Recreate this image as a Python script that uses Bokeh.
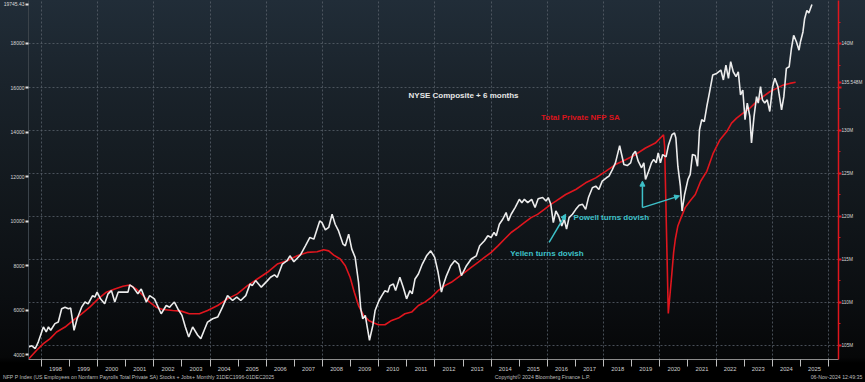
from bokeh.plotting import figure
from bokeh.models import (Range1d, LinearAxis, FixedTicker, Label, Arrow, NormalHead,
                          Grid, CustomJSTickFormatter)
from bokeh.embed import file_html
from bokeh.resources import INLINE

# ---------------- data ----------------
nyse_date = [1997.54, 1997.66, 1997.78, 1997.89, 1998.07, 1998.17, 1998.25, 1998.33, 1998.48, 1998.60,
             1998.72, 1998.84, 1998.96, 1999.04, 1999.16, 1999.27, 1999.43, 1999.55, 1999.66, 1999.82,
             1999.90, 1999.98, 2000.10, 2000.25, 2000.37, 2000.49, 2000.61, 2000.73, 2000.90, 2001.08,
             2001.14, 2001.26, 2001.43, 2001.55, 2001.73, 2001.85, 2002.02, 2002.26, 2002.44, 2002.56,
             2002.61, 2002.73, 2002.85, 2003.00, 2003.12, 2003.24, 2003.38, 2003.56, 2003.67, 2003.79,
             2003.91, 2004.09, 2004.27, 2004.44, 2004.62, 2004.80, 2004.95, 2005.09, 2005.27, 2005.42,
             2005.50, 2005.62, 2005.82, 2006.04, 2006.15, 2006.29, 2006.39, 2006.57, 2006.74, 2006.84,
             2006.98, 2007.21, 2007.39, 2007.55, 2007.69, 2007.90, 2007.98, 2008.10, 2008.22, 2008.34,
             2008.45, 2008.57, 2008.73, 2008.81, 2008.93, 2009.04, 2009.16, 2009.28, 2009.36, 2009.43,
             2009.52, 2009.60, 2009.67, 2009.79, 2009.87, 2010.01, 2010.11, 2010.22, 2010.32, 2010.40,
             2010.52, 2010.60, 2010.75, 2010.87, 2010.99, 2011.11, 2011.19, 2011.29, 2011.41, 2011.55,
             2011.70, 2011.85, 2011.99, 2012.11, 2012.23, 2012.29, 2012.41, 2012.56, 2012.70, 2012.84,
             2012.94, 2013.00, 2013.12, 2013.29, 2013.47, 2013.59, 2013.76, 2013.88, 2014.00, 2014.10,
             2014.18, 2014.29, 2014.41, 2014.53, 2014.61, 2014.71, 2014.85, 2015.00, 2015.09, 2015.18,
             2015.30, 2015.44, 2015.56, 2015.67, 2015.83, 2015.95, 2016.03, 2016.12, 2016.16, 2016.21,
             2016.30, 2016.40, 2016.51, 2016.60, 2016.68, 2016.77, 2016.89, 2017.01, 2017.13, 2017.25,
             2017.36, 2017.46, 2017.60, 2017.72, 2017.83, 2017.95, 2018.10, 2018.19, 2018.31, 2018.42,
             2018.52, 2018.57, 2018.64, 2018.72, 2018.84, 2018.96, 2019.04, 2019.13, 2019.23, 2019.35,
             2019.43, 2019.49, 2019.60, 2019.70, 2019.78, 2019.87, 2019.94, 2020.02, 2020.10, 2020.22,
             2020.31, 2020.43, 2020.52, 2020.57, 2020.64, 2020.73, 2020.79, 2020.88, 2021.00, 2021.08,
             2021.16, 2021.26, 2021.34, 2021.41, 2021.49, 2021.58, 2021.67, 2021.76, 2021.88, 2022.02,
             2022.17, 2022.26, 2022.35, 2022.44, 2022.52, 2022.61, 2022.71, 2022.79, 2022.87, 2022.95,
             2023.03, 2023.11, 2023.20, 2023.26, 2023.35, 2023.44, 2023.50, 2023.58, 2023.65, 2023.73,
             2023.82, 2023.91, 2024.01, 2024.09, 2024.20, 2024.33, 2024.41, 2024.50, 2024.60, 2024.68,
             2024.76, 2024.86, 2024.95, 2025.00, 2025.09, 2025.15, 2025.23, 2025.30, 2025.41]
nyse_value = [4344, 4390, 4270, 4570, 5240, 5015, 5240, 5090, 5390, 5460,
              6060, 6130, 6060, 6090, 5090, 5610, 6130, 6360, 6280, 6650,
              6580, 6805, 6505, 6280, 6730, 6875, 6360, 6805, 6805, 6805,
              7130, 7030, 6730, 6950, 6360, 6650, 6505, 5835, 6205, 6130,
              6205, 6360, 6060, 5760, 5240, 4790, 5240, 4865, 4715, 5090,
              5460, 5610, 5685, 6130, 6650, 6430, 6580, 6430, 6650, 7175,
              7100, 7325, 7030, 7325, 7475, 7580, 7475, 8070, 8220, 8440,
              8175, 8475, 8890, 9265, 9190, 10010, 9935, 9605, 9715, 10310,
              9860, 9560, 8965, 8890, 9415, 8740, 8370, 7250, 6060, 5610,
              5760, 5165, 4640, 5310, 5980, 6430, 6650, 6875, 6805, 7100,
              7175, 6875, 7475, 7030, 6505, 6875, 6730, 7400, 7625, 8070,
              8440, 8665, 8370, 7700, 6805, 7100, 7550, 7995, 8220, 8070,
              7550, 7700, 7995, 8295, 8440, 8890, 9115, 9340, 9265, 9490,
              9340, 9860, 10085, 10385, 10010, 10310, 10610, 10980, 10830, 10980,
              10830, 10980, 10610, 11010, 11060, 10905, 11060, 10755, 10385, 9935,
              10455, 10230, 9785, 10085, 9640, 10160, 10310, 10530, 10710, 10755,
              10530, 11060, 11500, 11575, 11425, 11800, 11950, 12025, 12320, 12620,
              13140, 13395, 12995, 12545, 12500, 12620, 12995, 13140, 12695, 12400,
              12620, 11875, 12245, 12620, 12770, 12620, 13070, 12620, 12995, 12890,
              13440, 13890, 13965, 13740, 12470, 11575, 10455, 11200, 11875, 12100,
              13000, 12950, 12470, 14110, 14560, 14480, 15155, 15750, 16570, 16645,
              16795, 16350, 17020, 16425, 17170, 16720, 16500, 16720, 15680, 15900,
              14560, 15310, 14710, 13520, 14710, 15600, 15310, 16050, 15455, 15310,
              15455, 14930, 16050, 16425, 16050, 15005, 15600, 16870, 16945, 17765,
              18360, 18060, 17690, 18060, 18510, 19105, 19480, 19360, 19745.43]

nfp_date = [1997.54, 1997.83, 1998.07, 1998.31, 1998.54, 1998.84, 1999.13, 1999.43, 1999.72, 2000.02,
            2000.31, 2000.61, 2000.90, 2001.14, 2001.37, 2001.61, 2001.85, 2002.08, 2002.32, 2002.67,
            2002.97, 2003.26, 2003.62, 2003.91, 2004.27, 2004.62, 2004.97, 2005.33, 2005.68, 2006.04,
            2006.39, 2006.74, 2007.10, 2007.45, 2007.81, 2008.04, 2008.22, 2008.40, 2008.63, 2008.81,
            2008.98, 2009.13, 2009.28, 2009.46, 2009.64, 2009.81, 2009.99, 2010.22, 2010.46, 2010.70,
            2010.93, 2011.17, 2011.41, 2011.64, 2011.88, 2012.11, 2012.35, 2012.58, 2012.82, 2013.06,
            2013.29, 2013.53, 2013.76, 2014.00, 2014.24, 2014.47, 2014.71, 2014.95, 2015.18, 2015.42,
            2015.65, 2015.89, 2016.12, 2016.30, 2016.65, 2017.01, 2017.36, 2017.72, 2018.07, 2018.42,
            2018.78, 2019.13, 2019.49, 2019.84, 2020.13, 2020.17, 2020.30, 2020.41, 2020.49, 2020.55,
            2020.64, 2020.73, 2020.90, 2021.08, 2021.26, 2021.45, 2021.67, 2021.90, 2022.14, 2022.38,
            2022.55, 2022.73, 2022.96, 2023.20, 2023.44, 2023.67, 2023.91, 2024.15, 2024.38, 2024.62,
            2024.83]
nfp_value = [103.38, 104.42, 105.20, 105.77, 106.55, 107.12, 107.89, 108.66, 109.43, 110.39,
             111.17, 111.55, 111.86, 112.01, 111.55, 110.78, 110.01, 109.43, 109.16, 109.04,
             108.97, 108.66, 108.66, 109.04, 109.62, 110.39, 110.97, 111.93, 112.70, 113.48,
             114.44, 114.82, 115.40, 115.79, 115.86, 116.09, 115.97, 115.48, 115.02, 114.24,
             112.90, 111.17, 109.62, 108.47, 107.89, 107.62, 107.39, 107.39, 107.89, 108.16,
             108.66, 108.86, 109.62, 110.01, 110.59, 111.35, 111.93, 112.32, 112.90, 113.48,
             114.06, 114.63, 115.21, 115.79, 116.55, 117.32, 118.10, 118.68, 119.25, 119.83,
             120.21, 120.79, 121.37, 121.75, 122.52, 123.10, 123.87, 124.45, 125.21, 125.99,
             126.56, 127.14, 127.92, 128.49, 129.45, 128.10, 108.70, 112.70, 115.79, 117.32,
             118.86, 119.63, 120.99, 121.80, 122.52, 124.06, 125.21, 127.33, 128.88, 129.83,
             130.80, 131.38, 131.96, 132.54, 133.30, 133.88, 134.45, 134.84, 135.22, 135.42,
             135.548]

year_labels = list(range(1998, 2026))
left_ticks = [4000, 6000, 8000, 10000, 12000, 14000, 16000, 18000]
right_ticks = [105, 110, 115, 120, 125, 130, 135, 140]
nyse_last = 19745.43
nfp_last = 135.548
footer_left = "NFP P Index (US Employees on Nonfarm Payrolls Total Private SA) Stocks + Jobs+  Monthly 31DEC1996-01DEC2025"
footer_mid = "Copyright\u00a9 2024 Bloomberg Finance L.P."
footer_right = "06-Nov-2024 12:49:35"

# ---------------- layout / style ----------------
FONT = "Liberation Sans"
TEAL = "#3ec1c9"
RED = "#e0161e"
X0, X1 = 1997.54, 2026.355

p = figure(width=865, height=382, output_backend="svg", toolbar_location=None,
           x_range=Range1d(X0, X1), y_range=Range1d(3776, 19924),
           min_border_left=25, min_border_right=26, min_border_top=0, min_border_bottom=19)
p.extra_y_ranges = {"nfp": Range1d(103.35, 145.05)}
p.background_fill_color = None
p.border_fill_color = None
p.outline_line_color = None
p.styles = {"background": "linear-gradient(to bottom, #212d38 0%, #1a232b 22%, #13191e 48%, "
                          "#0b0e11 78%, #060708 93.5%, #000000 95%, #000000 100%)"}

# bottom axis: labels centred in each year, ticks at year boundaries, footer as axis label
NB = "\u00a0"
xa = p.xaxis[0]
xa.ticker = FixedTicker(ticks=[y + 0.5 for y in year_labels],
                        minor_ticks=list(range(1998, 2027)))
xa.formatter = CustomJSTickFormatter(code="return String(Math.floor(tick));")
xa.major_tick_out = 0
xa.major_tick_in = 0
xa.minor_tick_out = 7
xa.minor_tick_in = 0
xa.minor_tick_line_color = "#bdbdbd"
xa.axis_line_color = "#8c8c8c"
xa.major_label_text_font = FONT
xa.major_label_text_font_size = "5.8px"
xa.major_label_text_color = "#cfcfcf"
xa.major_label_standoff = 0
xa.axis_label = footer_left + NB * 153 + footer_mid + NB * 153 + footer_right
xa.axis_label_standoff = 0
xa.axis_label_text_font = FONT
xa.axis_label_text_font_size = "5.2px"
xa.axis_label_text_font_style = "normal"
xa.axis_label_text_color = "#bdbdbd"

# left axis (with the last-value tag)
ya = p.yaxis[0]
ya.ticker = FixedTicker(ticks=left_ticks + [nyse_last])
ya.formatter = CustomJSTickFormatter(args=dict(last=nyse_last),
                                     code="return (tick == last) ? tick.toFixed(2) : tick.toFixed(0);")
ya.major_tick_out = 3
ya.major_tick_in = 0
ya.major_tick_line_color = "#e0e0e0"
ya.major_tick_line_width = 2
ya.minor_tick_line_color = None
ya.axis_line_color = "#3b434a"
ya.major_label_text_font = FONT
ya.major_label_text_font_size = "5px"
ya.major_label_text_color = "#d8d8d8"
ya.major_label_standoff = 1

# right axis (NFP, with the last-value tag)
ra = LinearAxis(y_range_name="nfp",
                ticker=FixedTicker(ticks=right_ticks + [nfp_last],
                                   minor_ticks=[t - 2.5 for t in right_ticks] + [142.5]),
                formatter=CustomJSTickFormatter(
                    args=dict(last=nfp_last),
                    code="if (tick == last) return tick.toFixed(3) + 'M';"
                         "if (Math.abs(tick - last) < 2) return '';"
                         "return tick + 'M';"))
ra.axis_line_color = RED
ra.axis_line_width = 1.5
ra.major_tick_line_color = RED
ra.major_tick_line_width = 2
ra.major_tick_out = 3
ra.major_tick_in = 0
ra.minor_tick_line_color = RED
ra.minor_tick_out = 2
ra.minor_tick_in = 0
ra.major_label_text_font = FONT
ra.major_label_text_font_size = "4.7px"
ra.major_label_text_color = "#d8d8d8"
ra.major_label_standoff = 0
p.add_layout(ra, "right")

# grids
p.xgrid.ticker = FixedTicker(ticks=list(range(1998, 2027, 2)))
p.xgrid.grid_line_color = "#58606a"
p.xgrid.grid_line_dash = "2 2"
p.xgrid.grid_line_alpha = 0.8
p.ygrid.visible = False
p.add_layout(Grid(dimension=1, y_range_name="nfp", ticker=FixedTicker(ticks=right_ticks),
                  grid_line_color="#58606a", grid_line_dash="2 2", grid_line_alpha=0.8))

# series
p.line(nfp_date, nfp_value, y_range_name="nfp", line_color=RED, line_width=1.6)
p.line(nyse_date, nyse_value, line_color="#ececec", line_width=1.6)

# annotation positions (data coordinates)
nyse_text_pos = (2011.06, 15647)
nfp_text_pos = (2015.77, 14662)
powell_text_pos = (2016.93, 10161)
yellen_text_pos = (2014.68, 8550)
yellen_arrow = (2016.06, 9043, 2016.65, 10309)
powell_arrow_up = (2019.38, 10608, 2019.38, 11799)
powell_arrow_right = (2019.38, 10608, 2020.70, 11135)

def txt(pos, s, color):
    p.add_layout(Label(x=pos[0], y=pos[1], text=s, text_color=color, text_font=FONT,
                       text_font_size="8px", text_font_style="bold", text_baseline="middle"))

txt(nyse_text_pos, "NYSE Composite + 6 months", "#e6e6e6")
txt(nfp_text_pos, "Total Private NFP SA", "#d9141c")
txt(powell_text_pos, "Powell turns dovish", TEAL)
txt(yellen_text_pos, "Yellen turns dovish", TEAL)

for a in (yellen_arrow, powell_arrow_up, powell_arrow_right):
    p.add_layout(Arrow(x_start=a[0], y_start=a[1], x_end=a[2], y_end=a[3],
                       line_color=TEAL, line_width=1.5,
                       end=NormalHead(size=5, fill_color=TEAL, line_color=TEAL)))

open("out.html", "w").write(file_html(p, INLINE))
